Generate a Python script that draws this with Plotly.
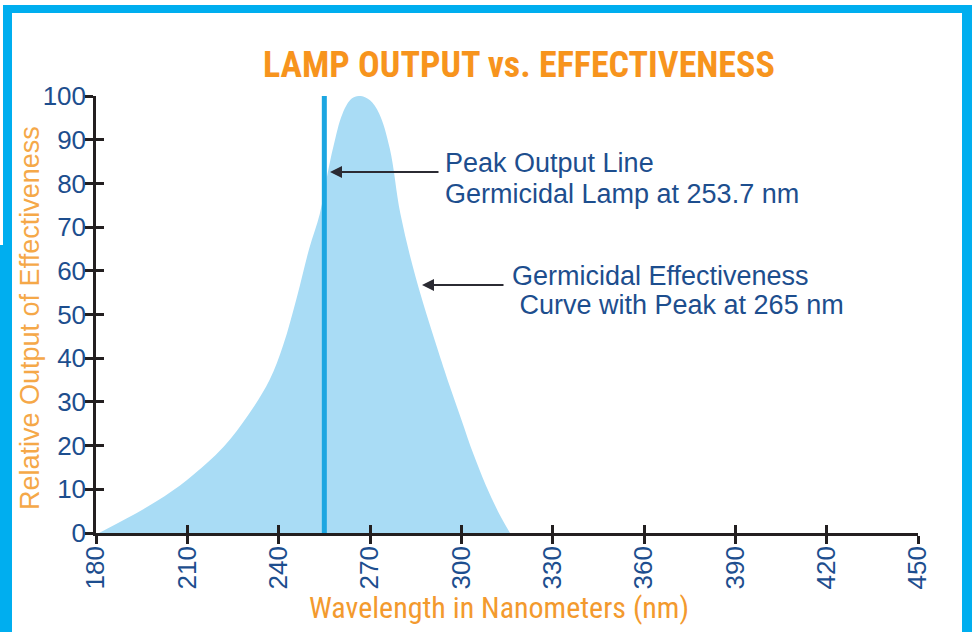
import plotly.graph_objects as go

# ---------------- data ----------------
wavelength = [181, 190, 200, 210, 222, 230, 237, 241.5, 246, 250, 253.5, 256, 258, 261,
              264, 267, 270, 273, 276.5, 280, 285, 292, 296, 300, 304, 308, 312, 316]
effectiveness = [0, 3.3, 7.3, 12.2, 19.8, 27, 35, 43, 54, 65, 73, 82, 88.5, 96,
                 99.4, 100, 99, 96, 88, 73, 58.5, 42.5, 34, 26, 18, 11, 5, 0]
lamp_wavelength = [255, 255]
lamp_output = [0, 100]
x_ticks = [180, 210, 240, 270, 300, 330, 360, 390, 420, 450]
y_ticks = [0, 10, 20, 30, 40, 50, 60, 70, 80, 90, 100]

TITLE = "LAMP OUTPUT vs. EFFECTIVENESS"
X_TITLE = "Wavelength in Nanometers (nm)"
Y_TITLE = "Relative Output of Effectiveness"
NOTE1 = ["Peak Output Line", "Germicidal Lamp at 253.7 nm"]
NOTE2 = ["Germicidal Effectiveness", "\u00a0Curve with Peak at 265 nm"]

# ---------------- layout constants ----------------
W, H = 972, 632
ML, MR, MT, MB = 96, 54, 96, 99
PW, PH = W - ML - MR, H - MT - MB
XR, YR = [180, 450], [0, 100]

def px(x):
    return (x - ML) / PW

def py(y):
    return (H - MB - y) / PH

def dx(x):
    return XR[0] + px(x) * (XR[1] - XR[0])

def dy(y):
    return YR[0] + py(y) * (YR[1] - YR[0])

ORANGE = "#F39A2E"
BLUE_TXT = "#1D4E8E"
AXIS = "#231F20"
FRAME = "#00AEEF"
NARROW = "Liberation Sans Narrow, Arial Narrow, Roboto Condensed, Liberation Sans, Arial, sans-serif"
SANS = "Liberation Sans, Arial, Helvetica, sans-serif"

fig = go.Figure()

fig.add_trace(go.Scatter(
    x=wavelength, y=effectiveness, mode="lines",
    line=dict(width=0, shape="spline", smoothing=1.0, color="#A9DCF5"),
    fill="tozeroy", fillcolor="#A9DCF5", hoverinfo="skip", showlegend=False))

fig.add_trace(go.Scatter(
    x=lamp_wavelength, y=lamp_output, mode="lines",
    line=dict(width=5, color="#1CA6E1"), hoverinfo="skip", showlegend=False))

# invisible trace for the overlay axes (inside ticks -> crossing ticks)
fig.add_trace(go.Scatter(x=[None], y=[None], xaxis="x2", yaxis="y2",
                         showlegend=False, hoverinfo="skip"))

axis_common = dict(showgrid=False, zeroline=False, showline=True, linecolor=AXIS,
                   linewidth=2.5, tickcolor=AXIS, tickwidth=2.5, ticklen=8)

fig.update_layout(
    width=W, height=H,
    margin=dict(l=ML, r=MR, t=MT, b=MB),
    paper_bgcolor="white", plot_bgcolor="rgba(0,0,0,0)",
    xaxis=dict(range=XR, tickvals=x_ticks, ticks="outside", tickangle=-90,
               ticklabelstandoff=-8,
               tickfont=dict(family=SANS, size=26, color=BLUE_TXT), **axis_common),
    yaxis=dict(range=YR, tickvals=y_ticks, ticks="outside", ticklabelstandoff=-6,
               tickfont=dict(family=SANS, size=26, color=BLUE_TXT), **axis_common),
    xaxis2=dict(range=XR, tickvals=x_ticks, ticks="inside", overlaying="x",
                showticklabels=False, **axis_common),
    yaxis2=dict(range=YR, tickvals=y_ticks, ticks="inside", overlaying="y",
                showticklabels=False, **axis_common),
    showlegend=False,
)

note_font = dict(family=SANS, size=27, color=BLUE_TXT)
annotations = [
    dict(text="<b>" + TITLE + "</b>", xref="paper", yref="paper", x=px(519), y=py(65),
         xanchor="center", yanchor="middle", showarrow=False,
         font=dict(family=NARROW, size=36, color="#F7941D")),
    dict(text=X_TITLE, xref="paper", yref="paper", x=px(499), y=py(607),
         xanchor="center", yanchor="middle", showarrow=False,
         font=dict(family=NARROW, size=30, color=ORANGE)),
    dict(text=Y_TITLE, xref="paper", yref="paper", x=px(30), y=py(318),
         xanchor="center", yanchor="middle", showarrow=False, textangle=-90,
         font=dict(family=SANS, size=27, color="#F5A848")),
    dict(text=NOTE1[0], xref="paper", yref="paper", x=px(443), y=py(163),
         xanchor="left", yanchor="middle", showarrow=False, font=note_font),
    dict(text=NOTE1[1], xref="paper", yref="paper", x=px(443), y=py(194),
         xanchor="left", yanchor="middle", showarrow=False, font=note_font),
    dict(text=NOTE2[0], xref="paper", yref="paper", x=px(510), y=py(276),
         xanchor="left", yanchor="middle", showarrow=False, font=note_font),
    dict(text=NOTE2[1], xref="paper", yref="paper", x=px(510), y=py(305),
         xanchor="left", yanchor="middle", showarrow=False, font=note_font),
    # arrows
    dict(text="", x=dx(330), y=dy(172), xref="x", yref="y", ax=dx(440), ay=dy(172),
         axref="x", ayref="y", showarrow=True, arrowhead=2, arrowsize=1.2,
         arrowwidth=2, arrowcolor="#2B2B33"),
    dict(text="", x=dx(422), y=dy(285), xref="x", yref="y", ax=dx(505), ay=dy(285),
         axref="x", ayref="y", showarrow=True, arrowhead=2, arrowsize=1.2,
         arrowwidth=2, arrowcolor="#2B2B33"),
]
fig.update_layout(annotations=annotations)

# blue frame around the picture
shapes = [
    dict(type="rect", xref="paper", yref="paper", x0=px(3), x1=px(12), y0=py(245), y1=py(5)),
    dict(type="rect", xref="paper", yref="paper", x0=px(0), x1=px(12), y0=py(H), y1=py(245)),
    dict(type="rect", xref="paper", yref="paper", x0=px(3), x1=px(W), y0=py(13), y1=py(5)),
    dict(type="rect", xref="paper", yref="paper", x0=px(962), x1=px(W), y0=py(H), y1=py(5)),
]
for s in shapes:
    s.update(fillcolor=FRAME, line=dict(width=0), layer="above")
fig.update_layout(shapes=shapes)

fig.write_html("out.html", config={"displayModeBar": False},
               post_script="document.body.style.margin='0px';")
